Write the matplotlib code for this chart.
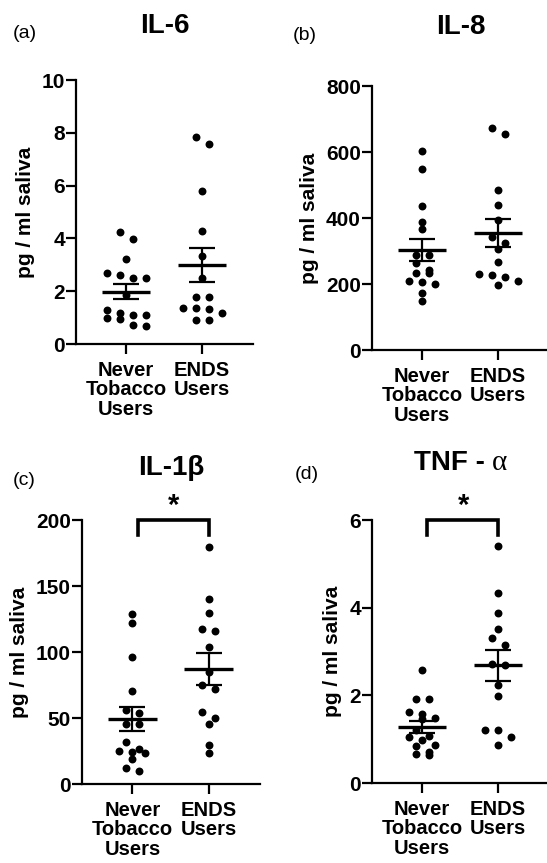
import numpy as np
import matplotlib
matplotlib.use("Agg")
import matplotlib.pyplot as plt
from matplotlib.transforms import blended_transform_factory

W, H = 547, 863
DPI = 100

groups = ["Never\nTobacco\nUsers", "ENDS\nUsers"]

# values (pg / ml saliva)
il6_never = [4.26, 3.99, 3.21, 2.70, 2.61, 2.51, 2.51, 1.86, 1.29, 1.16, 1.11, 1.11, 0.97, 0.93, 0.73, 0.69]
il6_ends = [7.83, 7.58, 5.81, 4.29, 3.33, 2.51, 1.79, 1.77, 1.37, 1.35, 1.31, 1.19, 0.91, 0.91]
il8_never = [603, 550, 436, 389, 366, 288, 288, 263, 242, 234, 232, 210, 207, 200, 174, 148]
il8_ends = [674, 655, 485, 439, 394, 341, 323, 305, 268, 230, 227, 222, 209, 197]
il1b_never = [128.8, 121.7, 96, 70.6, 56, 54, 45.3, 45.3, 31.5, 26.5, 25.2, 24.5, 23.5, 18.7, 11.9, 10]
il1b_ends = [179.8, 139.8, 129.2, 117.3, 115.9, 103.8, 84.5, 75, 72.2, 54.8, 49.8, 45.7, 29.5, 23.7]
tnf_never = [2.58, 1.92, 1.92, 1.63, 1.57, 1.49, 1.45, 1.22, 1.07, 1.04, 0.98, 0.87, 0.84, 0.71, 0.66, 0.64]
tnf_ends = [5.41, 4.33, 3.87, 3.52, 3.30, 3.15, 2.72, 2.70, 2.24, 1.99, 1.21, 1.21, 1.06, 0.86]

plt.rcParams.update({
    "font.family": ["Liberation Sans", "DejaVu Sans"],
    "font.weight": "bold",
    "axes.labelweight": "bold",
    "axes.linewidth": 1.6,
})


def row_offsets(vals, px_per_unit, row_px=7.5, step_px=13):
    """GraphPad-like scatter: points close in y share a row, spread symmetrically."""
    order = np.argsort(vals)[::-1]
    offs = np.zeros(len(vals))
    rows, cur = [], []
    for i in order:
        if cur and (vals[cur[0]] - vals[i]) * px_per_unit > row_px:
            rows.append(cur)
            cur = []
        cur.append(i)
    rows.append(cur)
    for r in rows:
        n = len(r)
        for k, i in enumerate(r):
            offs[i] = (k - (n - 1) / 2) * step_px
    return offs


def panel(box, data, ymax, yticks, title, tag, tag_xy, title_base, star=False, alpha_title=False):
    l, t, r, b = box
    ax = fig.add_axes([l / W, 1 - b / H, (r - l) / W, (b - t) / H])
    ax.set_xlim(-0.66, 1.67)
    ax.set_ylim(0, ymax)
    ax.spines[["top", "right"]].set_visible(False)
    ax.set_yticks(yticks)
    ax.set_xticks([0, 1])
    ax.set_xticklabels(groups, fontsize=14.5, linespacing=1.05)
    ax.tick_params(axis="y", length=7, width=1.6, labelsize=15, pad=1)
    ax.tick_params(axis="x", length=7, width=1.6, pad=5)
    ax.set_ylabel("pg / ml saliva", fontsize=15, labelpad=5)

    ppu_y = (b - t) / ymax
    ppu_x = (r - l) / 2.33
    for i, vals in enumerate(data):
        v = np.asarray(vals, float)
        dx = row_offsets(v, ppu_y) / ppu_x
        ax.plot(i + dx, v, "o", color="black", ms=5.7, mew=0, zorder=2, clip_on=False)
        m = v.mean()
        sem = v.std(ddof=1) / np.sqrt(len(v))
        ax.hlines(m, i - 0.32, i + 0.32, color="black", lw=2.4, zorder=3)
        ax.vlines(i, m - sem, m + sem, color="black", lw=1.6, zorder=3)
        ax.hlines([m - sem, m + sem], i - 0.17, i + 0.17, color="black", lw=1.6, zorder=3)

    if star:
        tr = blended_transform_factory(ax.transData, ax.transAxes)
        ax.plot([0.07, 0.07, 1, 1], [0.943, 1, 1, 0.943], color="black", lw=2.6,
                transform=tr, clip_on=False, solid_joinstyle="miter")
        ax.text(0.54, 1.055, "*", transform=tr, ha="center", va="center", fontsize=21)

    cx = (l + r) / 2
    if alpha_title:
        rend = fig.canvas.get_renderer()
        t1 = fig.text(0, 1 - title_base / H, "TNF - ", fontsize=20, va="baseline", ha="left")
        t2 = fig.text(0, 1 - title_base / H, "α", fontsize=21, va="baseline", ha="left",
                      family=["Liberation Serif", "DejaVu Serif"], weight="normal")
        w1 = t1.get_window_extent(rend).width
        w2 = t2.get_window_extent(rend).width
        x0 = cx - (w1 + w2) / 2
        t1.set_x(x0 / W)
        t2.set_x((x0 + w1) / W)
    else:
        fig.text(cx / W, 1 - title_base / H, title, fontsize=20, ha="center", va="baseline")
    fig.text(tag_xy[0] / W, 1 - tag_xy[1] / H, tag, fontsize=14, weight="normal",
             ha="left", va="center")
    return ax


fig = plt.figure(figsize=(W / DPI, H / DPI), dpi=DPI)

panel((76, 80, 253, 344), [il6_never, il6_ends], 10, [0, 2, 4, 6, 8, 10],
      "IL-6", "(a)", (13, 33), 33)
panel((372, 86, 549, 350), [il8_never, il8_ends], 800, [0, 200, 400, 600, 800],
      "IL-8", "(b)", (293, 35), 34)
panel((82, 520, 260, 784), [il1b_never, il1b_ends], 200, [0, 50, 100, 150, 200],
      "IL-1β", "(c)", (13, 480), 475, star=True)
panel((372, 520, 549, 783), [tnf_never, tnf_ends], 6, [0, 2, 4, 6],
      "TNF - α", "(d)", (295, 474), 470, star=True, alpha_title=True)

fig.savefig("out.png", dpi=DPI)
